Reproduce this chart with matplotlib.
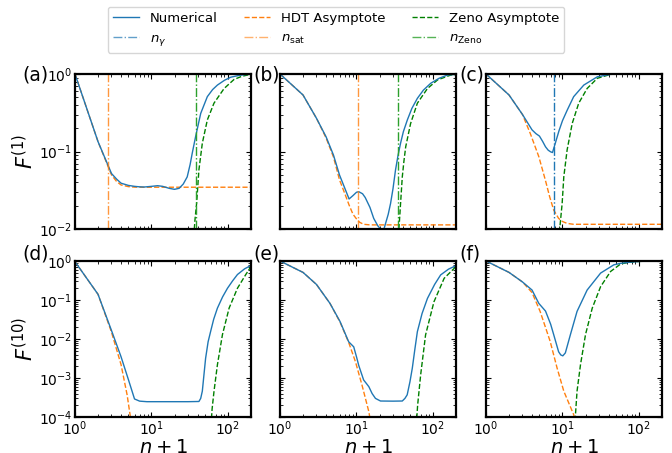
import matplotlib
matplotlib.use("Agg")
import matplotlib.pyplot as plt
from matplotlib.lines import Line2D

# ---- data (x = n+1) ----
# (a)
num_a_x = [1, 2, 3, 3.5, 4, 5, 6, 7, 8, 10, 12, 14, 17, 20, 23, 26, 29.3, 32, 34.1, 37.7, 44, 53.7, 63, 72.8, 90, 109, 140, 180, 200]
num_a_y = [1, 0.134, 0.052, 0.044, 0.039, 0.0365, 0.0355, 0.035, 0.0348, 0.0355, 0.0362, 0.0355, 0.0335, 0.0325, 0.0335, 0.038, 0.047, 0.068, 0.095, 0.155, 0.31, 0.51, 0.63, 0.72, 0.83, 0.91, 0.96, 0.99, 0.995]
hdt_a_x = [1, 2, 3, 3.5, 4, 5, 6, 8, 10, 200]
hdt_a_y = [1, 0.134, 0.05, 0.041, 0.037, 0.0352, 0.0347, 0.0346, 0.0346, 0.0346]
zeno_a_x = [35.7, 37, 38.9, 41.7, 46.2, 53.7, 65.6, 89, 120, 150, 180, 200]
zeno_a_y = [0.008, 0.013, 0.0214, 0.058, 0.128, 0.255, 0.42, 0.65, 0.85, 0.93, 0.97, 0.98]
nsat_a = 2.7
nzeno_a = 38.1

# (b)
num_b_x = [1, 2, 3, 4, 5, 6, 7, 8, 9, 10, 10.7, 12, 13, 15, 16.8, 19, 21, 23, 24, 26, 27.9, 30, 32.4, 35, 37.7, 41, 46.2, 53, 62.5, 75, 93.6, 120, 155, 200]
num_b_y = [1, 0.536, 0.268, 0.155, 0.09, 0.0497, 0.034, 0.0244, 0.027, 0.0298, 0.0303, 0.0285, 0.0255, 0.019, 0.0137, 0.011, 0.0098, 0.0102, 0.0118, 0.0155, 0.0214, 0.033, 0.058, 0.09, 0.128, 0.18, 0.255, 0.36, 0.485, 0.62, 0.76, 0.88, 0.97, 0.99]
hdt_b_x = [1, 2, 3, 4, 5, 6, 7, 8, 9, 10, 11, 12.4, 15, 200]
hdt_b_y = [1, 0.536, 0.268, 0.15, 0.085, 0.043, 0.029, 0.0204, 0.0155, 0.0135, 0.0122, 0.0115, 0.0113, 0.0113]
zeno_b_x = [35.2, 36.5, 37.7, 39.7, 41.7, 44, 51, 62.5, 84.7, 115, 171, 200]
zeno_b_y = [0.008, 0.013, 0.0214, 0.047, 0.075, 0.115, 0.23, 0.42, 0.65, 0.84, 0.97, 0.98]
nsat_b = 10.4
nzeno_b = 35.2

# (c)
num_c_x = [1, 2, 3, 4, 4.5, 5, 5.5, 6, 6.5, 7, 7.4, 8, 9, 10, 11.5, 14, 19, 28.5, 42.6, 70, 200]
num_c_y = [1, 0.536, 0.3, 0.19, 0.17, 0.158, 0.135, 0.115, 0.104, 0.099, 0.097, 0.125, 0.185, 0.25, 0.34, 0.51, 0.72, 0.92, 0.99, 1.0, 1.0]
hdt_c_x = [1, 2, 3, 3.8, 4.9, 6, 6.8, 7.67, 8.9, 10, 11.5, 14, 200]
hdt_c_y = [1, 0.536, 0.3, 0.17, 0.086, 0.042, 0.026, 0.0176, 0.0137, 0.0125, 0.0118, 0.0115, 0.0115]
zeno_c_x = [9.1, 9.5, 9.9, 10.4, 11.5, 13.4, 16.3, 21, 28.5, 42.6, 70, 200]
zeno_c_y = [0.009, 0.014, 0.0214, 0.047, 0.105, 0.23, 0.42, 0.65, 0.88, 0.99, 1.0, 1.0]
ngamma_c = 7.67

# (d)
num_d_x = [1, 2, 3, 4, 5, 6, 7, 8.7, 15, 30, 41.7, 44, 46.2, 48.5, 51, 55, 59.4, 65, 72.8, 85, 98.5, 115, 133, 165, 200]
num_d_y = [0.96, 0.14, 0.0165, 0.0035, 0.0009, 0.00029, 0.000255, 0.000247, 0.000247, 0.000247, 0.00025, 0.0003, 0.00046, 0.0012, 0.0032, 0.0085, 0.0158, 0.032, 0.062, 0.12, 0.2, 0.31, 0.45, 0.63, 0.77]
hdt_d_x = [1, 2, 3, 4, 4.8, 5.3, 5.6]
hdt_d_y = [0.96, 0.14, 0.015, 0.0022, 0.00037, 0.0001, 0.00006]
zeno_d_x = [60, 62, 65.7, 72.8, 84.7, 103.5, 133, 171, 200]
zeno_d_y = [0.00006, 0.00016, 0.00046, 0.0022, 0.013, 0.062, 0.2, 0.45, 0.72]

# (e)
num_e_x = [1, 2, 3, 4.5, 6.1, 7.9, 8.6, 9.2, 10, 10.7, 12.4, 13.5, 14.5, 16, 17.7, 20.6, 30, 39.7, 43, 46, 50, 53.7, 58, 62.5, 72, 84.7, 105, 126, 160, 200]
num_e_y = [1, 0.51, 0.25, 0.082, 0.028, 0.0085, 0.0072, 0.0063, 0.0035, 0.0021, 0.00089, 0.00072, 0.0006, 0.0004, 0.0003, 0.000257, 0.000255, 0.000257, 0.0003, 0.00037, 0.0008, 0.0018, 0.0055, 0.0154, 0.045, 0.11, 0.25, 0.44, 0.62, 0.76]
hdt_e_x = [1, 2, 3, 4.5, 6.1, 7.9, 9.7, 11.8, 14.5, 15.2]
hdt_e_y = [1, 0.51, 0.25, 0.082, 0.027, 0.0082, 0.0026, 0.00066, 0.000137, 0.00008]
zeno_e_x = [60.5, 63, 69, 80, 103, 140, 200]
zeno_e_y = [0.00006, 0.0002, 0.0012, 0.0127, 0.09, 0.36, 0.72]

# (f)
num_f_x = [1, 2, 3, 4, 4.9, 6, 7, 7.67, 8.9, 9.5, 10.1, 10.9, 12.7, 15.5, 21, 31.5, 47, 57.6, 75, 105, 200]
num_f_y = [1, 0.51, 0.29, 0.18, 0.082, 0.052, 0.024, 0.013, 0.0047, 0.0039, 0.0037, 0.0044, 0.013, 0.051, 0.18, 0.49, 0.8, 0.87, 0.93, 0.98, 1.0]
hdt_f_x = [1, 2, 3, 4, 5.1, 6.9, 8.5, 10.4, 14, 14.6]
hdt_f_y = [1, 0.51, 0.29, 0.155, 0.051, 0.0087, 0.0018, 0.00046, 0.000115, 0.00008]
zeno_f_x = [14.6, 15.5, 17.2, 20, 24.5, 31.5, 42.6, 57.6, 75, 105, 200]
zeno_f_y = [0.00008, 0.00046, 0.0022, 0.013, 0.062, 0.22, 0.54, 0.84, 0.93, 0.98, 1.0]

panel_labels = ['(a)', '(b)', '(c)', '(d)', '(e)', '(f)']

c_num = 'tab:blue'
c_hdt = 'tab:orange'
c_zeno = 'green'
c_nzeno = 'tab:green'

fig = plt.figure(figsize=(6.72, 4.53), dpi=100)
lefts = [75, 280, 486]
top_row = [74, 229]
bot_row = [261, 417]
W, H = 672.0, 453.0

axes = []
for r, (t, b) in enumerate([top_row, bot_row]):
    for c, l in enumerate(lefts):
        ax = fig.add_axes([l / W, 1 - b / H, 176 / W, (b - t) / H])
        axes.append(ax)

panels = [
    (num_a_x, num_a_y, hdt_a_x, hdt_a_y, zeno_a_x, zeno_a_y),
    (num_b_x, num_b_y, hdt_b_x, hdt_b_y, zeno_b_x, zeno_b_y),
    (num_c_x, num_c_y, hdt_c_x, hdt_c_y, zeno_c_x, zeno_c_y),
    (num_d_x, num_d_y, hdt_d_x, hdt_d_y, zeno_d_x, zeno_d_y),
    (num_e_x, num_e_y, hdt_e_x, hdt_e_y, zeno_e_x, zeno_e_y),
    (num_f_x, num_f_y, hdt_f_x, hdt_f_y, zeno_f_x, zeno_f_y),
]

for i, ax in enumerate(axes):
    nx, ny, hx, hy, zx, zy = panels[i]
    ax.plot(hx, hy, '--', color=c_hdt, lw=1)
    ax.plot(zx, zy, '--', color=c_zeno, lw=1)
    ax.plot(nx, ny, '-', color=c_num, lw=1)
    ax.set_xscale('log')
    ax.set_yscale('log')
    ax.set_xlim(1, 200)
    if i < 3:
        ax.set_ylim(1e-2, 1)
    else:
        ax.set_ylim(1e-4, 1)
    ax.tick_params(which='both', direction='in', top=True, right=True, labelsize=10, pad=2)
    for s in ax.spines.values():
        s.set_linewidth(1.6)
    if i < 3:
        ax.tick_params(labelbottom=False)
    else:
        ax.set_xlabel('$n+1$', fontsize=14, labelpad=0)
    if i in (0, 3):
        ax.set_ylabel('$F^{(1)}$' if i == 0 else '$F^{(10)}$', fontsize=15, labelpad=1)
    else:
        ax.tick_params(labelleft=False)
    xoff = -0.30 if i in (0, 3) else -0.153
    yoff = 0.96 if i < 3 else 1.01
    ax.text(xoff, yoff, panel_labels[i], transform=ax.transAxes, fontsize=13.5, va='baseline')

# vertical markers
axes[0].axvline(nsat_a, color=c_hdt, ls='-.', lw=1, alpha=0.8)
axes[0].axvline(nzeno_a, color=c_nzeno, ls='-.', lw=1)
axes[1].axvline(nsat_b, color=c_hdt, ls='-.', lw=1, alpha=0.8)
axes[1].axvline(nzeno_b, color=c_nzeno, ls='-.', lw=1)
axes[2].axvline(ngamma_c, color=c_num, ls='-.', lw=1)

handles = [
    Line2D([], [], color=c_num, lw=1),
    Line2D([], [], color=c_num, ls='-.', lw=1, alpha=0.7),
    Line2D([], [], color=c_hdt, ls='--', lw=1),
    Line2D([], [], color=c_hdt, ls='-.', lw=1, alpha=0.6),
    Line2D([], [], color=c_zeno, ls='--', lw=1),
    Line2D([], [], color=c_nzeno, ls='-.', lw=1, alpha=0.8),
]
labels = ['Numerical', r'$n_\gamma$', 'HDT Asymptote', r'$n_{\rm sat}$', 'Zeno Asymptote', r'$n_{\rm Zeno}$']
fig.legend(handles, labels, loc='upper center', bbox_to_anchor=(0.5, 1.0), ncol=3, fontsize=9.5)

fig.savefig('out.png', dpi=100)
